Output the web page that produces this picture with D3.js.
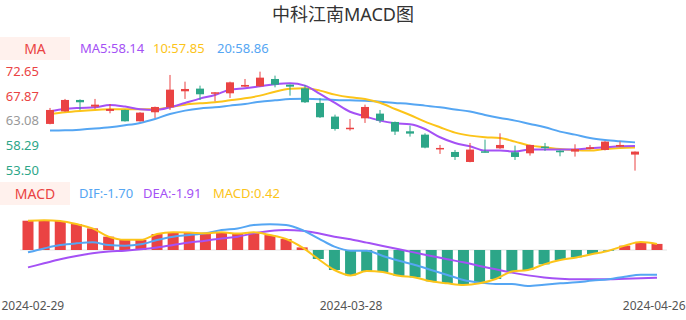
<!DOCTYPE html>
<html>
<head>
<meta charset="utf-8">
<script src="https://cdn.jsdelivr.net/npm/d3@7"></script>
<style>
  body { margin: 0; background: #fff; }
  svg { display: block; font-family: "Noto Sans", "Noto Sans CJK SC", sans-serif; }
</style>
</head>
<body>
<svg id="chart" width="686" height="320"></svg>
<script>
// trading days shown
var dates = ["2024-02-29","2024-03-01","2024-03-04","2024-03-05","2024-03-06","2024-03-07","2024-03-08",
  "2024-03-11","2024-03-12","2024-03-13","2024-03-14","2024-03-15","2024-03-18","2024-03-19","2024-03-20",
  "2024-03-21","2024-03-22","2024-03-25","2024-03-26","2024-03-27","2024-03-28","2024-03-29","2024-04-01",
  "2024-04-02","2024-04-03","2024-04-08","2024-04-09","2024-04-10","2024-04-11","2024-04-12","2024-04-15",
  "2024-04-16","2024-04-17","2024-04-18","2024-04-19","2024-04-22","2024-04-23","2024-04-24","2024-04-25","2024-04-26"];
var shownDates = ["2024-02-29","2024-03-28","2024-04-26"];

var open  = [62.44,64.88,67.09,65.80,64.96,65.15,62.95,64.70,65.67,68.77,69.29,68.32,68.38,69.67,69.74,71.16,70.06,69.35,66.51,63.86,
             61.60,63.53,64.44,62.82,61.01,60.36,57.65,57.00,55.06,57.13,57.71,56.94,56.74,58.04,57.26,57.07,57.58,57.39,58.04,56.49];
var close = [65.15,67.09,66.64,66.18,65.34,62.95,64.63,65.73,69.09,69.22,68.19,68.58,70.51,70.00,71.42,70.06,69.67,66.64,63.73,61.46,
             61.70,65.73,63.08,60.95,60.56,57.84,57.78,56.03,57.46,56.94,58.36,56.03,58.36,57.78,56.94,57.58,57.91,59.01,58.36,57.07];
var high  = [65.54,67.29,67.20,67.29,66.31,65.20,64.70,65.80,71.94,70.64,69.87,68.60,70.64,71.16,72.58,71.81,70.10,70.00,67.41,64.24,
             63.40,66.18,65.15,62.90,62.11,60.62,58.36,57.39,58.75,59.39,60.62,58.23,58.40,58.75,57.30,58.49,58.36,59.10,59.01,57.10];
var low   = [62.37,64.80,65.15,65.34,64.50,62.90,62.90,63.60,65.15,67.29,67.09,66.83,67.48,69.60,69.67,69.54,67.93,66.50,63.60,61.14,
             61.14,62.63,62.63,60.30,59.98,57.71,56.62,55.45,55.00,56.90,57.60,55.45,56.29,57.20,56.16,56.10,57.50,57.30,58.00,53.38];

var ma5  = [64.89,65.34,65.54,65.67,66.12,65.80,65.28,65.15,65.67,66.51,67.35,68.06,69.09,69.35,69.74,70.13,70.32,69.87,68.25,66.51,
            64.80,63.92,63.08,62.56,62.37,61.46,59.85,58.75,58.10,57.26,57.26,57.07,57.46,57.46,57.46,57.46,57.71,57.91,58.10,58.14];
var ma10 = [64.31,64.70,64.96,65.15,65.28,65.28,65.28,65.28,65.67,66.18,66.44,66.64,67.02,67.41,67.93,68.70,69.25,69.38,68.90,68.12,
            67.60,67.29,66.55,65.34,64.18,62.89,61.79,60.75,60.17,59.85,59.69,59.01,58.23,57.91,57.58,57.39,57.26,57.58,57.78,57.85];
var ma20 = [61.14,61.20,61.33,61.53,61.79,62.17,62.63,63.40,64.37,65.02,65.44,65.67,65.99,66.31,66.76,67.02,67.26,67.32,67.25,67.09,
            67.02,66.96,66.72,66.51,66.31,65.99,65.67,65.25,64.83,64.18,63.60,63.08,62.43,61.79,60.95,60.36,59.72,59.33,59.07,58.86];

var dif  = [-0.16,0.11,0.34,0.46,0.53,0.34,0.30,0.39,0.69,0.92,1.03,1.15,1.38,1.49,1.72,1.77,1.72,1.38,0.80,0.23,
            -0.05,-0.05,-0.41,-0.74,-1.03,-1.38,-1.72,-2.07,-2.25,-2.34,-2.34,-2.48,-2.39,-2.30,-2.23,-2.11,-2.02,-1.84,-1.70,-1.70];
var dea  = [-1.20,-0.92,-0.64,-0.41,-0.23,-0.11,-0.05,0.05,0.18,0.34,0.51,0.64,0.80,0.92,1.15,1.31,1.38,1.33,1.15,0.92,
            0.74,0.51,0.28,0.05,-0.18,-0.41,-0.64,-0.85,-1.10,-1.33,-1.56,-1.75,-1.89,-1.98,-2.02,-2.02,-2.02,-1.98,-1.95,-1.91];
var macd = [2.02,2.06,2.00,1.79,1.49,0.92,0.70,0.70,1.10,1.22,1.20,1.15,1.22,1.13,1.22,1.03,0.76,0.18,-0.62,-1.38,
            -1.75,-1.45,-1.52,-1.78,-1.89,-2.16,-2.30,-2.41,-2.30,-2.00,-1.49,-1.38,-0.99,-0.69,-0.51,-0.28,-0.05,0.30,0.55,0.42];

var priceTicks = [72.65, 67.87, 63.08, 58.29, 53.50];
var baseClose = 63.08;

var RED = "#ea4343", GREEN = "#2ca688";
var C_MA5 = "#a451f5", C_MA10 = "#fcc419", C_MA20 = "#55a6f3";

var svg = d3.select("#chart");
var idx = d3.range(dates.length);

// title
svg.append("text")
  .attr("x", 343).attr("y", 21)
  .attr("text-anchor", "middle")
  .attr("font-size", 18).attr("fill", "#333")
  .text("中科江南MACD图");

// ---------- price panel
var xK = d3.scalePoint().domain(idx).range([50, 635]);
var yK = d3.scaleLinear().domain([53.50, 72.65]).range([170, 71.3]);

svg.append("rect").attr("x", 0).attr("y", 37).attr("width", 70).attr("height", 23).attr("fill", "#fff1ed");
svg.append("text").attr("x", 35).attr("y", 53.5).attr("text-anchor", "middle")
  .attr("font-size", 14).attr("fill", RED).text("MA");

var maLegend = [
  {t: "MA5:" + ma5[ma5.length-1].toFixed(2), c: C_MA5, x: 80},
  {t: "10:" + ma10[ma10.length-1].toFixed(2), c: C_MA10, x: 153},
  {t: "20:" + ma20[ma20.length-1].toFixed(2), c: C_MA20, x: 217}
];
svg.selectAll(".malg").data(maLegend).enter().append("text")
  .attr("x", d => d.x).attr("y", 53)
  .attr("font-size", 13).attr("fill", d => d.c).text(d => d.t);

// y labels
var yAxisK = d3.axisLeft(yK).tickValues(priceTicks).tickSize(0).tickFormat(d3.format(".2f"));
var gy = svg.append("g").attr("transform", "translate(42,0)").call(yAxisK);
gy.select(".domain").remove();
gy.selectAll("text")
  .attr("font-size", 13).attr("font-family", "Noto Sans, sans-serif")
  .attr("fill", d => d > baseClose ? RED : (d < baseClose ? GREEN : "#999"));

// MA lines (under candles)
function maLine(arr) {
  return d3.line().x((d, i) => xK(i)).y(d => yK(d)).curve(d3.curveMonotoneX)(arr);
}
[[ma20, C_MA20], [ma10, C_MA10], [ma5, C_MA5]].forEach(function(m) {
  svg.append("path").attr("d", maLine(m[0])).attr("fill", "none")
    .attr("stroke", m[1]).attr("stroke-width", 2);
});

// candles
var candles = svg.append("g").selectAll("g").data(idx).enter().append("g");
candles.append("line")
  .attr("x1", i => xK(i)).attr("x2", i => xK(i))
  .attr("y1", i => yK(high[i])).attr("y2", i => yK(low[i]))
  .attr("stroke", i => close[i] >= open[i] ? RED : GREEN).attr("stroke-width", 1);
candles.append("rect")
  .attr("x", i => xK(i) - 4).attr("width", 8)
  .attr("y", i => yK(Math.max(open[i], close[i])))
  .attr("height", i => Math.max(1.5, Math.abs(yK(open[i]) - yK(close[i]))))
  .attr("fill", i => close[i] >= open[i] ? RED : GREEN);

// ---------- MACD panel
var xM = d3.scalePoint().domain(idx).range([28, 657]);
var yM = d3.scaleLinear().domain([-2.5, 2.5]).range([286.25, 213.75]);

svg.append("rect").attr("x", 0).attr("y", 182).attr("width", 70).attr("height", 23).attr("fill", "#fff1ed");
svg.append("text").attr("x", 35).attr("y", 198.5).attr("text-anchor", "middle")
  .attr("font-size", 14).attr("fill", RED).text("MACD");

var macdLegend = [
  {t: "DIF:" + dif[dif.length-1].toFixed(2), c: C_MA20, x: 79},
  {t: "DEA:" + dea[dea.length-1].toFixed(2), c: C_MA5, x: 143},
  {t: "MACD:" + macd[macd.length-1].toFixed(2), c: C_MA10, x: 213}
];
svg.selectAll(".mdlg").data(macdLegend).enter().append("text")
  .attr("x", d => d.x).attr("y", 198)
  .attr("font-size", 13).attr("fill", d => d.c).text(d => d.t);

svg.append("line").attr("x1", 20).attr("x2", 667)
  .attr("y1", yM(0)).attr("y2", yM(0)).attr("stroke", "#e3e3e3").attr("stroke-width", 1);

svg.append("g").selectAll("rect").data(idx).enter().append("rect")
  .attr("x", i => xM(i) - 5.5).attr("width", 11)
  .attr("y", i => yM(Math.max(0, macd[i])))
  .attr("height", i => Math.abs(yM(macd[i]) - yM(0)))
  .attr("fill", i => macd[i] >= 0 ? RED : GREEN);

function mLine(arr) {
  return d3.line().x((d, i) => xM(i)).y(d => yM(d)).curve(d3.curveMonotoneX)(arr);
}
[[dea, C_MA5], [dif, C_MA20], [macd, C_MA10]].forEach(function(m) {
  svg.append("path").attr("d", mLine(m[0])).attr("fill", "none")
    .attr("stroke", m[1]).attr("stroke-width", 2);
});

// x labels, edge ones kept inside the picture
var xAxisM = d3.axisBottom(xM).tickValues(shownDates.map(d => dates.indexOf(d)))
  .tickSize(0).tickFormat(i => dates[i]);
var gx = svg.append("g").attr("transform", "translate(0,298)").call(xAxisM);
gx.select(".domain").remove();
var lastI = dates.length - 1;
gx.selectAll("text").attr("font-size", 12).attr("fill", "#555")
  .attr("font-family", "Noto Sans, sans-serif")
  .attr("text-anchor", i => i === 0 ? "start" : (i === lastI ? "end" : "middle"))
  .attr("x", i => i === 0 ? -xM(0) + 1 : (i === lastI ? 685 - xM(lastI) : 0));
</script>
</body>
</html>
